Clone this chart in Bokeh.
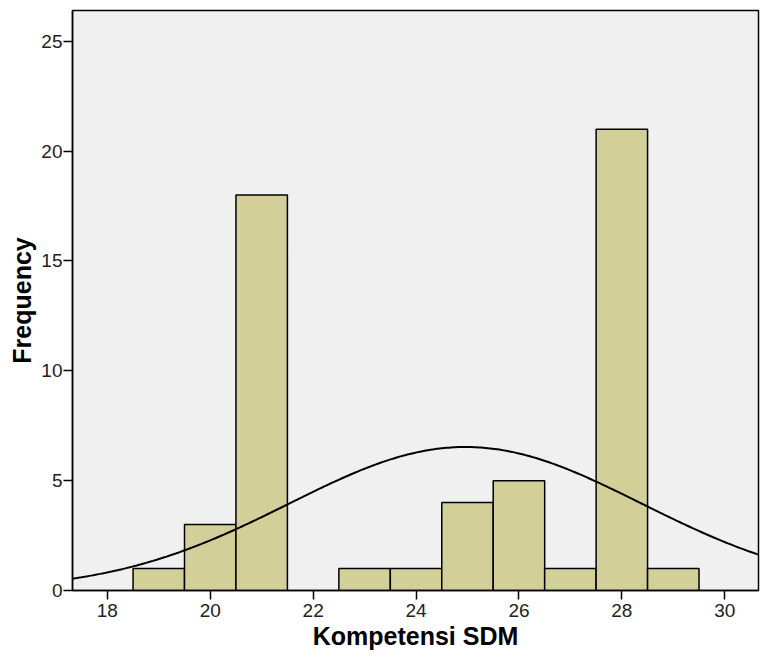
import numpy as np
from bokeh.plotting import figure
from bokeh.models import Range1d, FixedTicker
from bokeh.embed import file_html
from bokeh.resources import INLINE

# Histogram data (bin centres, width 1)
bin_centers = [19, 20, 21, 23, 24, 25, 26, 27, 28, 29]
counts = [1, 3, 18, 1, 1, 4, 5, 1, 21, 1]
bin_width = 1.0

# Normal curve parameters (as drawn)
curve_mean = 24.96
curve_sd = 3.42
curve_n = 56

x_ticks = [18, 20, 22, 24, 26, 28, 30]
y_ticks = [0, 5, 10, 15, 20, 25]

X0, X1 = 17.323, 30.656
p = figure(width=762, height=663, output_backend="svg", toolbar_location=None,
           x_range=Range1d(X0, X1), y_range=Range1d(0, 26.40),
           min_border_left=72, min_border_right=4, min_border_top=10, min_border_bottom=73)

p.background_fill_color = "#f0f0f0"
p.border_fill_color = "white"
p.outline_line_color = "black"
p.outline_line_width = 1.5
p.grid.visible = False

lefts = [c - bin_width / 2 for c in bin_centers]
rights = [c + bin_width / 2 for c in bin_centers]
p.quad(left=lefts, right=rights, bottom=0, top=counts,
       fill_color="#d3cf98", line_color="black", line_width=1.5)

xs = np.linspace(X0, X1, 300)
ys = curve_n * bin_width / (curve_sd * np.sqrt(2 * np.pi)) * np.exp(-(xs - curve_mean) ** 2 / (2 * curve_sd ** 2))
p.line(xs, ys, line_color="black", line_width=2)

for ax in (p.xaxis[0], p.yaxis[0]):
    ax.axis_line_color = "black"
    ax.axis_line_width = 1.5
    ax.major_tick_line_color = "black"
    ax.major_tick_line_width = 1.5
    ax.major_tick_out = 9
    ax.major_tick_in = 0
    ax.minor_tick_line_color = None
    ax.major_label_text_font = "Liberation Sans"
    ax.major_label_text_font_size = "19px"
    ax.major_label_text_color = "#222222"
    ax.axis_label_text_font = "Liberation Sans"
    ax.axis_label_text_font_style = "bold"
    ax.axis_label_text_font_size = "25px"
    ax.axis_label_text_color = "black"

p.xaxis[0].ticker = FixedTicker(ticks=x_ticks)
p.yaxis[0].ticker = FixedTicker(ticks=y_ticks)
p.xaxis[0].axis_label = "Kompetensi SDM"
p.yaxis[0].axis_label = "Frequency"
p.xaxis[0].major_label_standoff = 4
p.yaxis[0].major_label_standoff = 1
p.xaxis[0].axis_label_standoff = 2
p.yaxis[0].axis_label_standoff = 2

open("out.html", "w").write(file_html(p, INLINE))
